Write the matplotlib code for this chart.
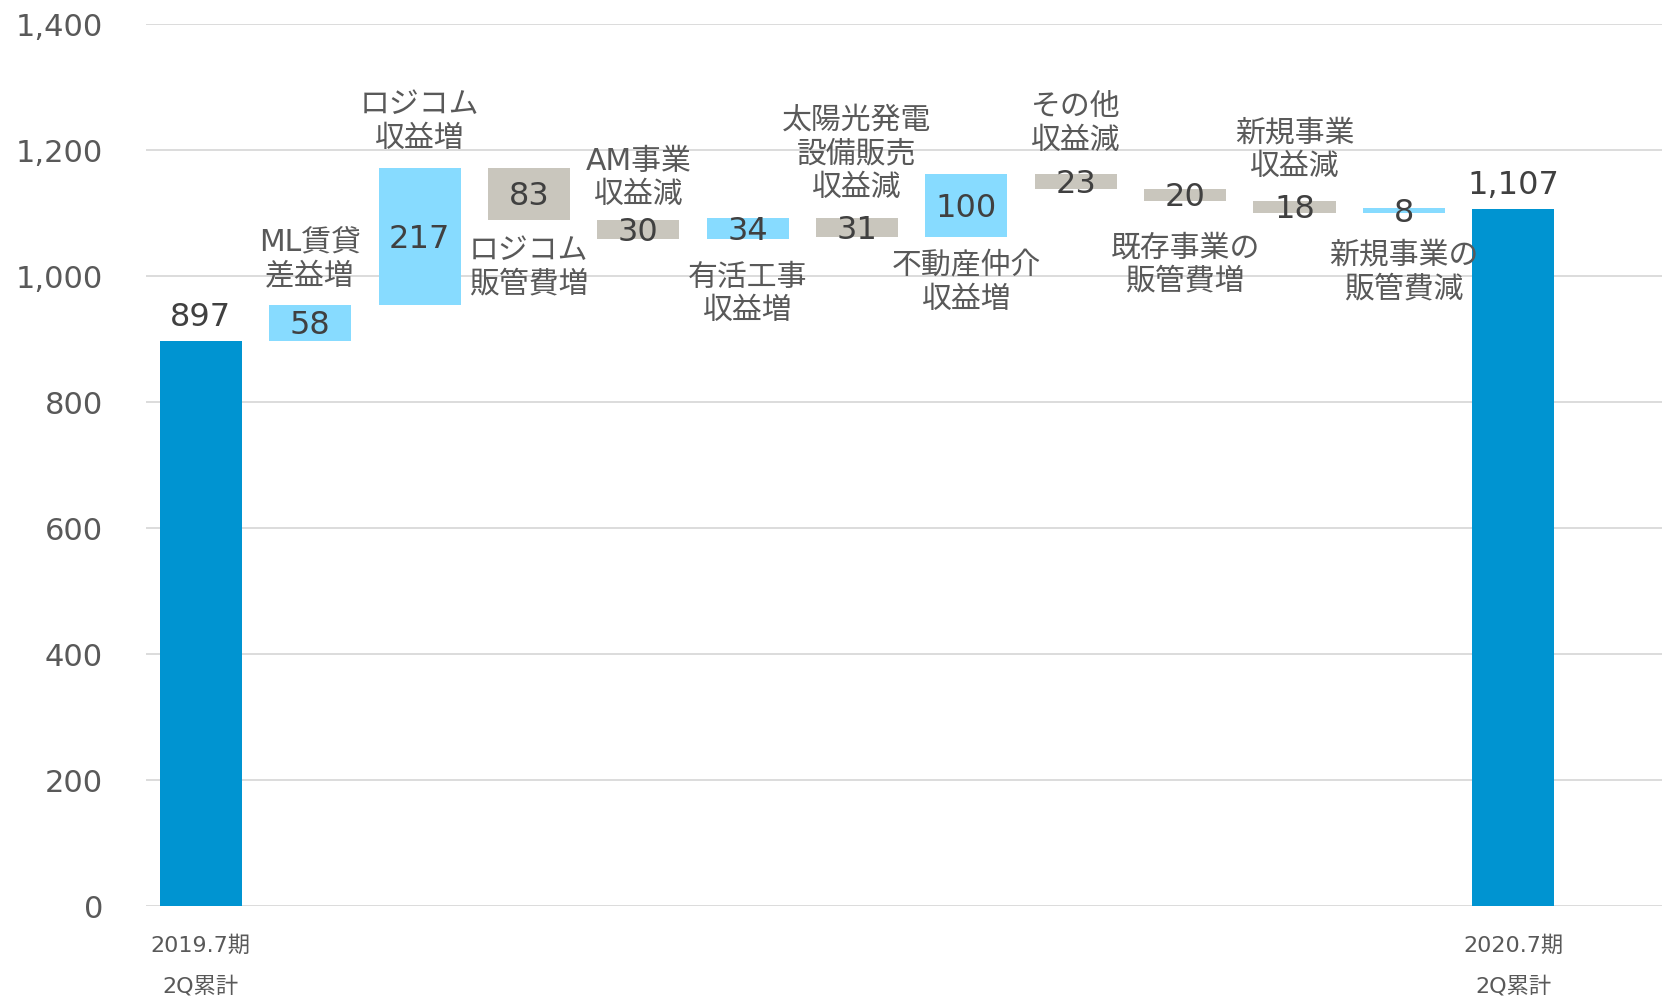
import matplotlib
matplotlib.use("Agg")
import matplotlib.pyplot as plt

# Verdana-like Latin + Japanese fallback
plt.rcParams['font.family'] = ['DejaVu Sans', 'Noto Sans CJK JP']

# Waterfall data (operating profit bridge, 2Q cumulative)
start_label = '2019.7期\n2Q累計'
end_label = '2020.7期\n2Q累計'
start_value = 897
end_value = 1107
step_labels = ['ML賃貸\n差益増', 'ロジコム\n収益増', 'ロジコム\n販管費増', 'AM事業\n収益減',
               '有活工事\n収益増', '太陽光発電\n設備販売\n収益減', '不動産仲介\n収益増',
               'その他\n収益減', '既存事業の\n販管費増', '新規事業\n収益減', '新規事業の\n販管費減']
step_values = [58, 217, -83, -30, 34, -31, 100, -23, -20, -18, 8]
y_ticks = [0, 200, 400, 600, 800, 1000, 1200, 1400]

# label placement (style only)
label_side = ['above', 'above', 'below', 'above', 'below', 'above', 'below',
              'above', 'below', 'above', 'below']
label_gap = [20, 21, 21, 18, 27, 21, 20, 24, 33, 25, 30]

TOTAL = '#0094D1'
UP = '#87DBFF'
DOWN = '#C9C6BD'
TXT = '#595959'
VAL = '#404040'

fig = plt.figure(figsize=(16.62, 9.99), dpi=100)
ax = fig.add_axes([0.0879, 0.0926, 0.9121, 0.883])

n = len(step_values) + 2
w = 0.75

# totals
ax.bar(0, start_value, width=w, color=TOTAL, zorder=2)
ax.bar(n - 1, end_value, width=w, color=TOTAL, zorder=2)
ax.annotate('{:,}'.format(start_value), (0, start_value), xytext=(0, 6),
            textcoords='offset points', ha='center', va='bottom', fontsize=23, color=VAL)
ax.annotate('{:,}'.format(end_value), (n - 1, end_value), xytext=(0, 6),
            textcoords='offset points', ha='center', va='bottom', fontsize=23, color=VAL)

line_pt = 25.0
running = start_value
for i, v in enumerate(step_values):
    x = i + 1
    lo = min(running, running + v)
    hi = max(running, running + v)
    ax.bar(x, hi - lo, bottom=lo, width=w, color=UP if v > 0 else DOWN, zorder=2)
    ax.annotate(str(abs(v)), (x, (lo + hi) / 2), xytext=(0, -2), textcoords='offset points',
                ha='center', va='center', fontsize=23, color=VAL, zorder=3)
    nl = step_labels[i].count('\n') + 1
    off = label_gap[i] + (nl - 1) * line_pt / 2
    if label_side[i] == 'above':
        ax.annotate(step_labels[i], (x, hi), xytext=(0, off), textcoords='offset points',
                    ha='center', va='center', fontsize=21.5, color=TXT, linespacing=1.2)
    else:
        ax.annotate(step_labels[i], (x, lo), xytext=(0, -off), textcoords='offset points',
                    ha='center', va='center', fontsize=21.5, color=TXT, linespacing=1.2)
    running += v

ax.set_xlim(-0.5, 13.36)
ax.set_ylim(0, 1400)
ax.set_yticks(y_ticks)
ax.set_yticklabels(['{:,}'.format(t) for t in y_ticks])
ax.set_xticks([0, n - 1])
ax.set_xticklabels([start_label, end_label], linespacing=2.15)
ax.tick_params(axis='y', length=0, pad=31, labelsize=22, labelcolor=TXT)
ax.tick_params(axis='x', length=0, pad=21, labelsize=16, labelcolor=TXT)
ax.grid(axis='y', color='#D9D9D9', linewidth=1.3, zorder=0)
ax.set_axisbelow(True)
for s in ax.spines.values():
    s.set_visible(False)

fig.savefig('out.png', dpi=100)
